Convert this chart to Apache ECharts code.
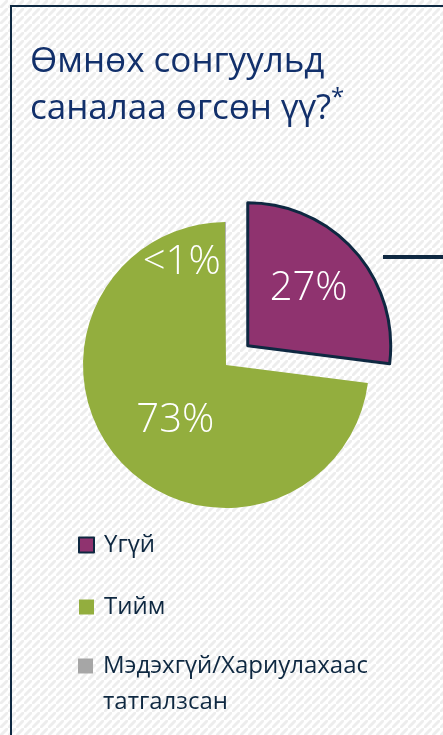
<!DOCTYPE html>
<html>
<head>
<meta charset="utf-8">
<script src="https://cdn.jsdelivr.net/npm/echarts@6/dist/echarts.min.js"></script>
<style>
  html, body { margin: 0; padding: 0; background: #fff; }
  #main { width: 443px; height: 735px; }
</style>
</head>
<body>
<div id="main"></div>
<script>
// data
var names = ['Үгүй', 'Тийм', 'Мэдэхгүй/Хариулахаас\nтатгалзсан'];
var values = [27, 72.9, 0.1];
var pctLabels = ['27%', '73%', '<1%'];
var colors = ['#8F336F', '#93AE3E', '#A6A6A6'];

// striped background tile
function stripeTile() {
    var c = document.createElement('canvas');
    c.width = 8;
    c.height = 8;
    var ctx = c.getContext('2d');
    ctx.fillStyle = '#ffffff';
    ctx.fillRect(0, 0, 8, 8);
    ctx.strokeStyle = '#EDEDED';
    ctx.lineWidth = 3;
    [[-8, 8], [0, 16], [-16, 0]].forEach(function (p) {
        ctx.beginPath();
        ctx.moveTo(p[0], p[1] + 8);
        ctx.lineTo(p[0] + 24, p[1] - 16);
        ctx.stroke();
    });
    return c;
}

var font = '"Open Sans", "Noto Sans", sans-serif';
var navy = '#0E2841';

function pie() {
    var myChart = echarts.init(document.getElementById('main'));
    var seriesData = names.map(function (n, i) {
        var item = {name: n, value: values[i], itemStyle: {color: colors[i]}};
        if (i === 0) {
            item.selected = true;
            item.itemStyle.borderColor = navy;
            item.itemStyle.borderWidth = 3;
        }
        return item;
    });
    var legendText = {color: navy, fontFamily: font, fontSize: 24, lineHeight: 36, padding: [0, 0, 0, 5]};
    var option = {
        backgroundColor: {image: stripeTile(), repeat: 'repeat'},
        animation: false,
        title: {
            text: 'Өмнөх сонгуульд\nсаналаа өгсөн үү?{s|*}',
            left: 25,
            top: 34,
            textStyle: {
                color: '#12306B',
                fontFamily: font,
                fontWeight: 'normal',
                fontSize: 35,
                lineHeight: 47,
                rich: {
                    s: {fontSize: 24, verticalAlign: 'top', color: '#12306B', fontFamily: font, lineHeight: 34}
                }
            }
        },
        legend: [
            {
                data: [names[0], names[1]],
                orient: 'vertical',
                left: 78,
                top: 527,
                padding: 0,
                itemGap: 26,
                itemWidth: 15,
                itemHeight: 15,
                icon: 'rect',
                selectedMode: false,
                textStyle: legendText
            },
            {
                // leading blank line keeps the first text line level with the icon
                data: [names[2]],
                orient: 'vertical',
                left: 78,
                top: 612,
                padding: 0,
                itemWidth: 15,
                itemHeight: 15,
                icon: 'rect',
                selectedMode: false,
                formatter: function (n) {
                    return '\n' + n;
                },
                textStyle: legendText
            }
        ],
        graphic: [
            {
                type: 'rect',
                shape: {x: 11, y: 6, width: 460, height: 760},
                style: {fill: 'none', stroke: navy, lineWidth: 2},
                silent: true
            },
            {
                type: 'line',
                shape: {x1: 383, y1: 257, x2: 443, y2: 257},
                style: {stroke: navy, lineWidth: 4},
                silent: true
            }
        ],
        series: [
            {
                type: 'pie',
                center: [226, 365],
                radius: [0, 143],
                startAngle: 90,
                clockwise: true,
                selectedMode: 'single',
                selectedOffset: 29,
                avoidLabelOverlap: false,
                label: {
                    show: true,
                    position: 'inside',
                    color: '#fff',
                    fontFamily: font,
                    fontWeight: 300,
                    fontSize: 40,
                    formatter: function (p) {
                        return pctLabels[p.dataIndex];
                    }
                },
                labelLine: {show: false},
                labelLayout: function (p) {
                    var d = [[5, -8], [5, 6], [-44, -28]][p.dataIndex];
                    return {dx: d[0], dy: d[1]};
                },
                data: seriesData
            }
        ]
    };
    myChart.setOption(option);
}
pie();
</script>
</body>
</html>
